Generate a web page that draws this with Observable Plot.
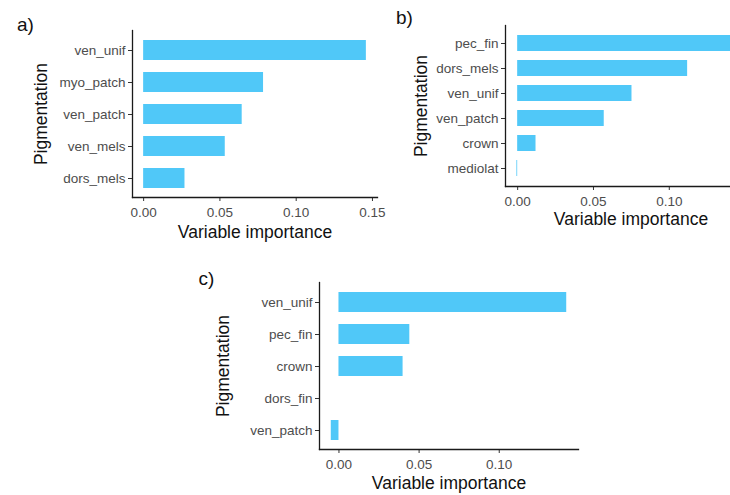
<!DOCTYPE html>
<html>
<head>
<meta charset="utf-8">
<script src="https://cdn.jsdelivr.net/npm/d3@7"></script>
<script src="https://cdn.jsdelivr.net/npm/@observablehq/plot@0.6"></script>
<style>
  html, body { margin: 0; padding: 0; background: #fff; }
  #fig { position: relative; width: 730px; height: 495px; overflow: hidden; background: #fff; }
  .panel { position: absolute; }
  .panel svg { overflow: visible; max-width: none !important; }
</style>
</head>
<body>
<div id="fig"></div>
<script>
// Variable importance of pigmentation traits, three models
const catsA = ["ven_unif", "myo_patch", "ven_patch", "ven_mels", "dors_mels"];
const valsA = [0.146, 0.0786, 0.0646, 0.0535, 0.0271];
const ticksA = [0, 0.05, 0.10, 0.15];

const catsB = ["pec_fin", "dors_mels", "ven_unif", "ven_patch", "crown", "mediolat"];
const valsB = [0.150, 0.1121, 0.0754, 0.0571, 0.0121, -0.0005];
const ticksB = [0, 0.05, 0.10];

const catsC = ["ven_unif", "pec_fin", "crown", "dors_fin", "ven_patch"];
const valsC = [0.1421, 0.0442, 0.0400, 0.0, -0.0048];
const ticksC = [0, 0.05, 0.10];

const xTitle = "Variable importance";
const yTitle = "Pigmentation";

const FONT = "'Liberation Sans', Arial, Helvetica, sans-serif";
const BAR = "#50C8F8";
const AXIS = "#1a1a1a";
const LABEL = "#4d4d4d";

// box: placement of the svg in the figure; frame: plotting area in figure pixels
function panel({tag, cats, vals, ticks, box, frame, pos}) {
  const data = cats.map((c, i) => ({name: c, value: vals[i]}));
  const lo = Math.min(0, d3.min(vals));
  const hi = Math.max(0, d3.max(vals));
  const pad = 0.05 * (hi - lo);
  const marginLeft = frame.l - box.left;
  const marginRight = box.left + box.width - frame.r;
  const marginTop = frame.t - box.top;
  const marginBottom = box.top + box.height - frame.b;

  const chart = Plot.plot({
    width: box.width,
    height: box.height,
    marginLeft, marginRight, marginTop, marginBottom,
    style: {fontFamily: FONT, fontSize: "13.5px", background: "transparent", color: LABEL},
    x: {domain: [lo - pad, hi + pad]},
    y: {domain: cats, paddingInner: 0.38, paddingOuter: 0.29},
    marks: [
      Plot.barX(data, {x1: 0, x2: "value", y: "name", fill: BAR}),
      Plot.axisX({
        ticks, tickFormat: d3.format(".2f"),
        tickSize: 4, tickPadding: 6, stroke: "#333", fill: LABEL, label: null
      }),
      Plot.axisY({tickSize: 4, tickPadding: 3, stroke: "#333", fill: LABEL, label: null}),
      Plot.frame({anchor: "left", stroke: AXIS, strokeWidth: 1.3}),
      Plot.frame({anchor: "bottom", stroke: AXIS, strokeWidth: 1.3}),
      Plot.text([xTitle], {
        text: (d) => d, frameAnchor: "bottom", textAnchor: "middle", lineAnchor: "middle",
        dy: pos.xTitleY - frame.b, fontSize: 17.5, fill: "#111"
      }),
      Plot.text([yTitle], {
        text: (d) => d, frameAnchor: "left", rotate: -90, textAnchor: "middle", lineAnchor: "middle",
        dx: pos.yTitleX - frame.l, fontSize: 17.5, fill: "#111"
      }),
      Plot.text([tag], {
        text: (d) => d, frameAnchor: "top-left", textAnchor: "middle", lineAnchor: "middle",
        dx: pos.tagX - frame.l, dy: pos.tagY - frame.t,
        fontSize: 19, fill: "#111"
      })
    ]
  });

  const div = document.createElement("div");
  div.className = "panel";
  div.style.left = box.left + "px";
  div.style.top = box.top + "px";
  div.style.width = box.width + "px";
  div.appendChild(chart);
  document.getElementById("fig").appendChild(div);
}

panel({
  tag: "a)", cats: catsA, vals: valsA, ticks: ticksA,
  box: {left: 0, top: 0, width: 392, height: 245},
  frame: {l: 132, r: 377, t: 30, b: 197},
  pos: {tagX: 25, tagY: 24, yTitleX: 41, xTitleY: 232}
});

panel({
  tag: "b)", cats: catsB, vals: valsB, ticks: ticksB,
  box: {left: 380, top: 0, width: 392, height: 240},
  frame: {l: 505, r: 756, t: 25, b: 186},
  pos: {tagX: 404, tagY: 17, yTitleX: 421, xTitleY: 219}
});

panel({
  tag: "c)", cats: catsC, vals: valsC, ticks: ticksC,
  box: {left: 190, top: 250, width: 400, height: 245},
  frame: {l: 319, r: 578, t: 282, b: 449},
  pos: {tagX: 206, tagY: 278, yTitleX: 223, xTitleY: 483}
});
</script>
</body>
</html>
